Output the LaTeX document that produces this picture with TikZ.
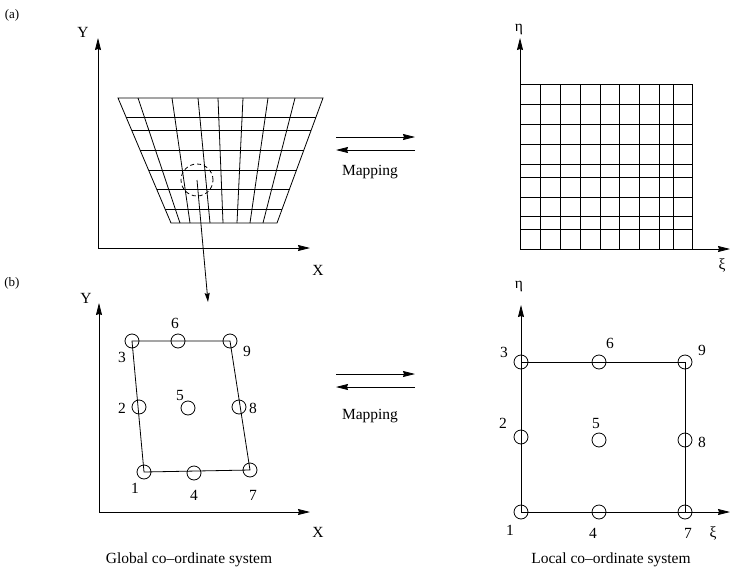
\documentclass[tikz,border=0pt]{standalone}
\usepackage{fontspec}
\setmainfont{Liberation Serif}
\usetikzlibrary{arrows.meta,calc}

\begin{document}
\begin{tikzpicture}[x=1pt,y=-1pt,line width=0.8pt,
  every node/.style={font=\fontsize{15.5}{18}\selectfont,inner sep=0pt},
  nd/.style={circle,draw,minimum size=14pt},
  ax/.style={-{Stealth[length=12pt,width=6pt,inset=1pt]}}]
  \useasboundingbox (0,0) rectangle (739,573);
  \node[font=\fontsize{13}{15}\selectfont] (pa) at (12,15) {(a)};
  \node[font=\fontsize{13}{15}\selectfont] (pb) at (12,283) {(b)};
  % (a) global mesh
  \coordinate (o1) at (98,248); \coordinate (y1) at (98,38); \coordinate (x1) at (310,248);
  \draw[ax] (o1) -- (y1); \draw[ax] (o1) -- (x1);
  \node (Y1) at (83,32) {Y}; \node (X1) at (318,270) {X};
  \coordinate (tl) at (118,98); \coordinate (tr) at (323,98);
  \coordinate (bl) at (171,223); \coordinate (br) at (277,223);
  \draw (tl) -- (tr) -- (br) -- (bl) -- cycle;
  \foreach \t in {0.152,0.256,0.416,0.576,0.728,0.888}
    \draw ($(tl)!\t!(bl)$) -- ($(tr)!\t!(br)$);
  \foreach \u/\v in {138/180,172/190,198/210,218/223,243/237,268/250,295/263}
    \draw (\u,98) -- (\v,223);
  \node[circle,draw,dash pattern=on 4pt off 3pt,minimum size=32pt] (zm) at (197,180) {};
  \coordinate (zt) at (208,302);
  \draw[-{Stealth[length=9pt,width=5pt,inset=1pt]}] (zm.center) -- (zt);
  % (a) local grid
  \coordinate (o2) at (520,249); \coordinate (y2) at (520,38); \coordinate (x2) at (730,249);
  \draw[ax] (o2) -- (y2); \draw[ax] (o2) -- (x2);
  \node (eta1) at (519,29) {η}; \node (xi1) at (722,265) {ξ};
  \foreach \u in {540,560,580,600,619,639,659,673,692} \draw (\u,84) -- (\u,249);
  \foreach \v in {84,104,124,144,164,177,197,216,229} \draw (520,\v) -- (692,\v);
  % mapping arrows
  \coordinate (m1a) at (336,137); \coordinate (m1b) at (415,137);
  \coordinate (m2a) at (415,150); \coordinate (m2b) at (336,150);
  \draw[ax] (m1a) -- (m1b); \draw[ax] (m2a) -- (m2b);
  \node (map1) at (370,172) {Mapping};
  \coordinate (m3a) at (336,374); \coordinate (m3b) at (415,374);
  \coordinate (m4a) at (415,387); \coordinate (m4b) at (336,387);
  \draw[ax] (m3a) -- (m3b); \draw[ax] (m4a) -- (m4b);
  \node (map2) at (370,416) {Mapping};
  % (b) global element
  \coordinate (o3) at (99,512); \coordinate (y3) at (99,303); \coordinate (x3) at (310,512);
  \draw[ax] (o3) -- (y3); \draw[ax] (o3) -- (x3);
  \node (Y2) at (86,298) {Y}; \node (X2) at (318,532) {X};
  \foreach \n/\x/\y in {1/144/472,2/139/407,3/132/341,4/194/473,5/188/408,6/178/341,7/250/470,8/239/407,9/230/341}
    \node[nd] (g\n) at (\x,\y) {};
  \draw (g1.center) -- (g3.center) -- (g9.center) -- (g7.center) -- cycle;
  \foreach \n/\x/\y in {1/135/488,2/122/408,3/122/357,4/194/495,5/180/395,6/175/323,7/253/495,8/253/408,9/247/351}
    \node (gl\n) at (\x,\y) {\n};
  \node (gcap) at (189,560) {Global co--ordinate system};
  % (b) local element
  \coordinate (o4) at (521,512); \coordinate (y4) at (521,305); \coordinate (x4) at (730,512);
  \draw[ax] (o4) -- (y4); \draw[ax] (o4) -- (x4);
  \node (eta2) at (519,286) {η}; \node (xi2) at (713,533) {ξ};
  \foreach \n/\x/\y in {1/521/512,2/521/437,3/521/362,4/599/512,5/599/440,6/599/362,7/685/512,8/685/440,9/685/362}
    \node[nd] (p\n) at (\x,\y) {};
  \draw (p1.center) -- (p3.center) -- (p9.center) -- (p7.center) -- cycle;
  \foreach \n/\x/\y in {1/510/530,2/503/423,3/504/352,4/593/533,5/596/423,6/610/343,7/688/533,8/702/442,9/702/350}
    \node (pl\n) at (\x,\y) {\n};
  \node (lcap) at (611,560) {Local co--ordinate system};
\end{tikzpicture}
\end{document}
